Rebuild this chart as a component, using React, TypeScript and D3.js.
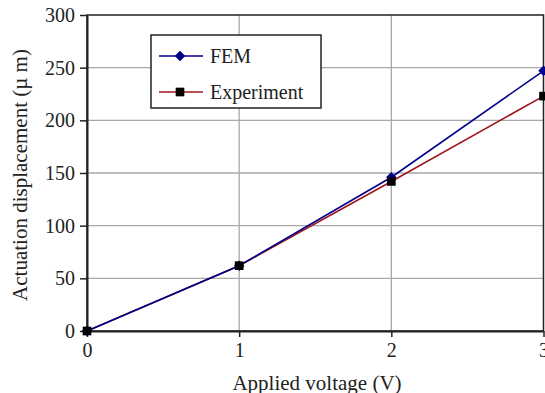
import React, { useEffect, useRef } from 'react';
import * as d3 from 'd3';

// Applied voltage (V)
const voltages = [0, 1, 2, 3];
// Actuation displacement (µm)
const femValues = [0, 62, 146, 247];
const experimentValues = [0, 62, 142, 223];
const xTicks = [0, 1, 2, 3];
const yTicks = [0, 50, 100, 150, 200, 250, 300];

const FONT = 'Liberation Serif, Times New Roman, Times, DejaVu Serif, serif';

const App = () => {
  const svgRef = useRef<SVGSVGElement>(null);

  useEffect(() => {
    if (!svgRef.current) return;
    const svg = d3.select(svgRef.current);
    svg.selectAll('*').remove();

    const left = 87, right = 543.5, top = 15, bottom = 331;

    const x = d3.scaleLinear().domain([0, 3]).range([left, right]);
    const y = d3.scaleLinear().domain([0, 300]).range([bottom, top]);

    // grid lines
    svg.append('g')
      .selectAll('line')
      .data(yTicks.slice(1, -1))
      .enter()
      .append('line')
      .attr('x1', left).attr('x2', right)
      .attr('y1', d => y(d)).attr('y2', d => y(d))
      .attr('stroke', '#a8a8a8').attr('stroke-width', 1.3);

    svg.append('g')
      .selectAll('line')
      .data(xTicks.slice(1, -1))
      .enter()
      .append('line')
      .attr('x1', d => x(d)).attr('x2', d => x(d))
      .attr('y1', top).attr('y2', bottom)
      .attr('stroke', '#a8a8a8').attr('stroke-width', 1.3);

    // plot frame
    svg.append('rect')
      .attr('x', left).attr('y', top)
      .attr('width', right - left).attr('height', bottom - top)
      .attr('fill', 'none').attr('stroke', '#222').attr('stroke-width', 1.5);

    // axes
    const yAxis = svg.append('g')
      .attr('transform', `translate(${left},0)`)
      .call(d3.axisLeft(y).tickValues(yTicks).tickSize(7).tickPadding(5).tickSizeOuter(0));
    const xAxis = svg.append('g')
      .attr('transform', `translate(0,${bottom})`)
      .call(d3.axisBottom(x).tickValues(xTicks).tickFormat(d3.format('d')).tickSize(6).tickPadding(6).tickSizeOuter(0));

    [yAxis, xAxis].forEach(g => {
      g.attr('font-family', FONT).attr('font-size', 20);
      g.select('.domain').attr('stroke', '#222').attr('stroke-width', 2);
      g.selectAll('line').attr('stroke', '#222').attr('stroke-width', 1.5);
      g.selectAll('text').attr('fill', '#222');
    });

    const line = d3.line<number>()
      .x((_, i) => x(voltages[i]))
      .y(d => y(d));

    // experiment series
    svg.append('path')
      .datum(experimentValues)
      .attr('d', line)
      .attr('fill', 'none')
      .attr('stroke', '#a0141e')
      .attr('stroke-width', 1.6);

    // FEM series
    svg.append('path')
      .datum(femValues)
      .attr('d', line)
      .attr('fill', 'none')
      .attr('stroke', '#00008b')
      .attr('stroke-width', 1.6);

    // diamond = square rotated 45 degrees
    const diamond = d3.symbol().type(d3.symbolSquare).size(55);
    const square = d3.symbol().type(d3.symbolSquare).size(75);

    svg.append('g')
      .selectAll('path')
      .data(femValues)
      .enter()
      .append('path')
      .attr('d', diamond)
      .attr('transform', (d, i) => `translate(${x(voltages[i])},${y(d)}) rotate(45)`)
      .attr('fill', '#00008b');

    svg.append('g')
      .selectAll('path')
      .data(experimentValues)
      .enter()
      .append('path')
      .attr('d', square)
      .attr('transform', (d, i) => `translate(${x(voltages[i])},${y(d)})`)
      .attr('fill', '#000');

    // legend
    const legend = svg.append('g');
    legend.append('rect')
      .attr('x', 151).attr('y', 35)
      .attr('width', 170).attr('height', 73)
      .attr('fill', '#fff').attr('stroke', '#222').attr('stroke-width', 1.5);

    const items = [
      { label: 'FEM', color: '#00008b', symbol: diamond, markColor: '#00008b', rot: 45, yPos: 56 },
      { label: 'Experiment', color: '#a0141e', symbol: square, markColor: '#000', rot: 0, yPos: 92 },
    ];
    items.forEach(it => {
      legend.append('line')
        .attr('x1', 159).attr('x2', 203)
        .attr('y1', it.yPos).attr('y2', it.yPos)
        .attr('stroke', it.color).attr('stroke-width', 1.6);
      legend.append('path')
        .attr('d', it.symbol)
        .attr('transform', `translate(180,${it.yPos}) rotate(${it.rot})`)
        .attr('fill', it.markColor);
      legend.append('text')
        .attr('x', 210).attr('y', it.yPos)
        .attr('dy', '0.35em')
        .attr('fill', '#222')
        .attr('font-family', FONT)
        .attr('font-size', 20)
        .text(it.label);
    });

    // axis titles
    svg.append('text')
      .attr('x', 317)
      .attr('y', 390)
      .attr('text-anchor', 'middle')
      .attr('fill', '#222')
      .attr('font-family', FONT)
      .attr('font-size', 21)
      .text('Applied voltage (V)');

    svg.append('text')
      .attr('transform', 'translate(27,175) rotate(-90)')
      .attr('text-anchor', 'middle')
      .attr('fill', '#222')
      .attr('font-family', FONT)
      .attr('font-size', 21)
      .text('Actuation displacement (\u00b5 m)');
  }, []);

  return (
    <svg
      ref={svgRef}
      width={545}
      height={393}
      style={{ position: 'absolute', left: 0, top: 0, background: '#fff', fontFamily: FONT }}
    />
  );
};

export default App;
